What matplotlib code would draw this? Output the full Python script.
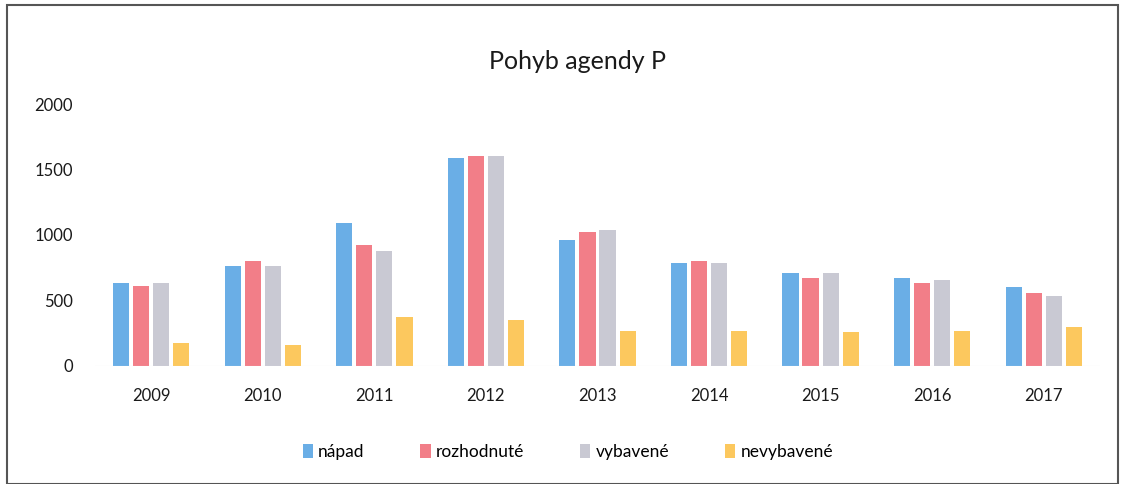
import numpy as np
import matplotlib
matplotlib.use("Agg")
import matplotlib.pyplot as plt
from matplotlib import patches

plt.rcParams['font.family'] = ['Lato', 'DejaVu Sans']

# data
years = ['2009', '2010', '2011', '2012', '2013', '2014', '2015', '2016', '2017']
napad = [636, 763, 1093, 1589, 961, 788, 707, 674, 600]
rozhodnute = [612, 801, 923, 1602, 1025, 801, 674, 631, 559]
vybavene = [636, 763, 880, 1602, 1035, 788, 707, 656, 534]
nevybavene = [173, 160, 376, 351, 267, 267, 257, 267, 300]

series = [napad, rozhodnute, vybavene, nevybavene]
names = ['nápad', 'rozhodnuté', 'vybavené', 'nevybavené']
colors = ['#6aaee6', '#f27e88', '#c9c9d3', '#fcc85e']

fig = plt.figure(figsize=(11.22, 4.84), dpi=100)
ax = fig.add_axes([0.085, 0.244, 0.895, 0.541])

x = np.arange(len(years))
w = 0.145
step = 0.18
for i, (vals, name, col) in enumerate(zip(series, names, colors)):
    ax.bar(x + (i - 1.5) * step, vals, w, color=col, label=name)

ax.set_xlim(-0.5, len(years) - 0.5)
ax.set_ylim(0, 2000)
ax.set_yticks([0, 500, 1000, 1500, 2000])
ax.set_xticks(x)
ax.set_xticklabels(years)
ax.tick_params(length=0, labelsize=12, colors='#1a1a1a')
ax.tick_params(axis='y', pad=16)
ax.tick_params(axis='x', pad=16)
for s in ax.spines.values():
    s.set_visible(False)
ax.axhline(0, color='#e8e8e8', lw=0.8)

fig.text(0.515, 0.872, 'Pohyb agendy P', ha='center', va='center',
         fontsize=18, color='#1a1a1a')

fig.legend(loc='center', bbox_to_anchor=(0.506, 0.066), ncol=4,
           frameon=False, fontsize=12.5, handlelength=0.6, handleheight=0.8,
           handletextpad=0.3, columnspacing=3.2)

# outer frame of the scanned chart
fig.patches.append(patches.Rectangle((0.006, 0.0), 0.99, 0.99, transform=fig.transFigure,
                                     fill=False, edgecolor='#555555', lw=1.5))

fig.savefig('out.png', dpi=100)
